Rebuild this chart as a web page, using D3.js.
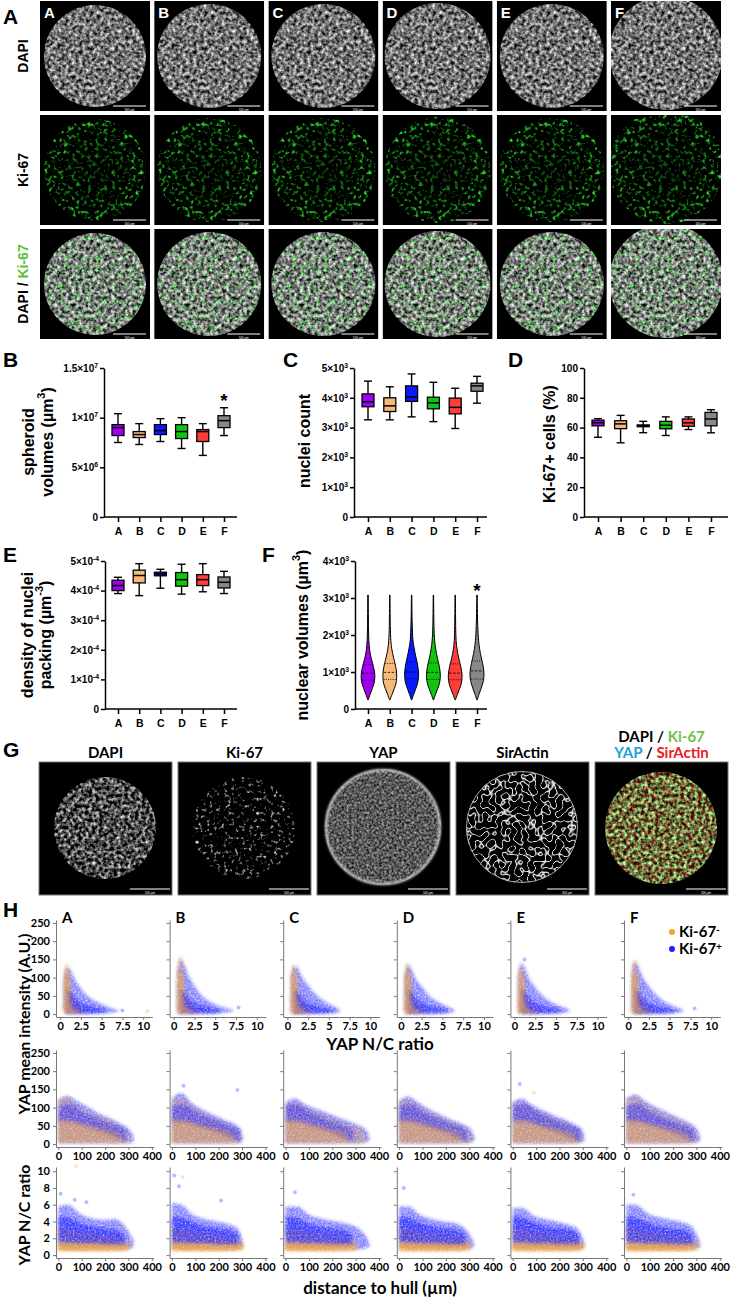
<!DOCTYPE html>
<html>
<head>
<meta charset="utf-8">
<title>Spheroid proliferation panels</title>
<script src="https://cdn.jsdelivr.net/npm/d3@7/dist/d3.min.js"></script>
<style>
  body { margin: 0; background: #fff; }
  svg { display: block; font-family: "Liberation Sans", Arial, sans-serif; }
  .lato { font-family: Lato, "Open Sans", sans-serif; }
</style>
</head>
<body>
<div id="container"></div>
<script>
//------------------------------- DATA --------------------------------//

const groups = ["A", "B", "C", "D", "E", "F"];
const groupColors = ["#a000f0", "#f6b97c", "#0a1aff", "#10c410", "#ff3c3c", "#888888"];

// panel A / G image rows and channels
const imageRows = ["DAPI", "Ki-67", "DAPI / Ki-67"];
const spheroidRadius = [51, 52, 52, 53, 52, 57];
const gChannels = ["DAPI", "Ki-67", "YAP", "SirActin", "merge"];

// box plots: [min, q1, median, q3, max]
const spheroidVolumes = [
  [7.5e6, 8.2e6, 9.0e6, 9.3e6, 1.04e7],
  [7.3e6, 8.0e6, 8.3e6, 8.6e6, 9.4e6],
  [7.6e6, 8.3e6, 8.7e6, 9.3e6, 9.9e6],
  [6.9e6, 7.9e6, 8.6e6, 9.3e6, 1.0e7],
  [6.2e6, 7.6e6, 8.6e6, 8.8e6, 9.4e6],
  [8.2e6, 9.0e6, 9.7e6, 1.02e7, 1.1e7]
];
const volumeTicks = [0, 5e6, 1e7, 1.5e7];
const volumeTickLabels = ["0", "5×10^6", "1×10^7", "1.5×10^7"];

const nucleiCount = [
  [3260, 3700, 3870, 4130, 4560],
  [3260, 3540, 3730, 4000, 4370],
  [3360, 3880, 4030, 4400, 4800],
  [3200, 3630, 3830, 4020, 4520],
  [2970, 3460, 3680, 3990, 4320],
  [3820, 4220, 4400, 4490, 4720]
];
const countTicks = [0, 1000, 2000, 3000, 4000, 5000];
const countTickLabels = ["0", "1×10^3", "2×10^3", "3×10^3", "4×10^3", "5×10^3"];

const ki67Percent = [
  [53.5, 61.2, 63.3, 65.0, 66.0],
  [49.8, 59.3, 62.5, 64.6, 68.2],
  [56.6, 60.6, 61.2, 61.8, 64.2],
  [54.7, 59.2, 61.6, 64.2, 67.2],
  [58.7, 60.9, 63.2, 65.8, 67.2],
  [56.5, 61.2, 65.8, 70.2, 72.0]
];
const percentTicks = [0, 20, 40, 60, 80, 100];
const percentTickLabels = ["0", "20", "40", "60", "80", "100"];

const packingDensity = [
  [3.90e-4, 4.00e-4, 4.17e-4, 4.35e-4, 4.45e-4],
  [3.83e-4, 4.26e-4, 4.51e-4, 4.69e-4, 4.91e-4],
  [4.08e-4, 4.50e-4, 4.56e-4, 4.62e-4, 4.72e-4],
  [3.88e-4, 4.15e-4, 4.37e-4, 4.61e-4, 4.89e-4],
  [3.96e-4, 4.17e-4, 4.37e-4, 4.54e-4, 4.91e-4],
  [3.90e-4, 4.09e-4, 4.28e-4, 4.46e-4, 4.65e-4]
];
const densityTicks = [0, 1e-4, 2e-4, 3e-4, 4e-4, 5e-4];
const densityTickLabels = ["0", "1×10^-4", "2×10^-4", "3×10^-4", "4×10^-4", "5×10^-4"];

// violins: [volume µm³, relative width]
const violinProfiles = [
  [[250, 0.04], [400, 0.3], [550, 0.62], [700, 0.9], [850, 1], [1000, 0.95], [1150, 0.78], [1300, 0.55], [1500, 0.3], [1700, 0.16], [2000, 0.08], [2500, 0.05], [3080, 0.03]],
  [[250, 0.04], [400, 0.32], [550, 0.65], [700, 0.92], [850, 1], [1000, 0.98], [1150, 0.85], [1300, 0.65], [1500, 0.4], [1700, 0.2], [2000, 0.09], [2500, 0.05], [3080, 0.03]],
  [[250, 0.04], [400, 0.3], [550, 0.6], [700, 0.88], [850, 1], [1000, 1], [1150, 0.9], [1300, 0.75], [1500, 0.5], [1700, 0.3], [1900, 0.14], [2500, 0.05], [3080, 0.03]],
  [[250, 0.04], [400, 0.3], [550, 0.62], [700, 0.9], [850, 1], [1000, 0.98], [1150, 0.86], [1300, 0.66], [1500, 0.44], [1700, 0.25], [2000, 0.1], [2500, 0.05], [3080, 0.03]],
  [[250, 0.04], [400, 0.32], [550, 0.64], [700, 0.92], [850, 1], [1000, 0.96], [1150, 0.8], [1300, 0.6], [1500, 0.36], [1700, 0.18], [2000, 0.08], [2500, 0.05], [3080, 0.03]],
  [[250, 0.04], [400, 0.28], [550, 0.58], [700, 0.86], [850, 1], [1000, 1], [1150, 0.9], [1300, 0.72], [1500, 0.48], [1700, 0.3], [2000, 0.15], [2500, 0.06], [3080, 0.03]]
];
const violinQuartiles = [
  [780, 970, 1200], [800, 990, 1230], [820, 1000, 1270],
  [800, 990, 1240], [790, 970, 1220], [810, 1030, 1300]
];
const nuclearTicks = [0, 1000, 2000, 3000, 4000];
const nuclearTickLabels = ["0", "1×10^3", "2×10^3", "3×10^3", "4×10^3"];

// H: point clouds as envelopes [x, low y, high y] per spheroid group
const ncTicks = [0, 2.5, 5, 7.5, 10];
const distTicks = [0, 100, 200, 300, 400];
const intensityTicks = [0, 50, 100, 150, 200, 250];
const ratioTicks = [0, 2, 4, 6, 8, 10];

const ncBlueOuter = [
  [[0.4, 10, 95], [0.8, 0, 128], [1.2, 0, 122], [1.8, 0, 95], [2.5, 0, 70], [3.5, 0, 46], [4.5, 0, 33], [5.5, 2, 23], [6.5, 5, 14], [7.1, 8, 10]],
  [[0.4, 10, 110], [0.8, 0, 150], [1.2, 0, 140], [1.8, 0, 105], [2.5, 0, 78], [3.5, 0, 48], [4.5, 0, 32], [5.5, 2, 22], [6.5, 5, 15], [7.2, 8, 11]],
  [[0.4, 10, 100], [0.8, 0, 132], [1.2, 0, 128], [1.8, 0, 102], [2.5, 0, 80], [3.5, 0, 52], [4.5, 0, 35], [5.5, 2, 22], [6.3, 6, 13]],
  [[0.4, 10, 100], [0.8, 0, 135], [1.2, 0, 126], [1.8, 0, 96], [2.5, 0, 76], [3.5, 0, 48], [4.5, 0, 33], [5.5, 2, 22], [6.4, 6, 13]],
  [[0.4, 10, 100], [0.8, 0, 140], [1.2, 0, 128], [1.8, 0, 96], [2.5, 0, 72], [3.5, 0, 48], [4.5, 0, 32], [5.5, 2, 22], [6.6, 6, 12]],
  [[0.4, 10, 110], [0.8, 0, 145], [1.2, 0, 132], [1.8, 0, 100], [2.5, 0, 76], [3.5, 0, 50], [4.5, 0, 33], [5.5, 2, 22], [6.6, 6, 12]]
];
const ncBlueCore = [[0.8, 3, 70], [1.3, 2, 60], [2, 2, 40], [3, 2, 26], [4, 3, 20], [5, 4, 15], [5.6, 6, 11]];
const ncOrangeOuter = [
  [[0.3, 0, 45], [0.55, 0, 130], [0.85, 0, 140], [1.15, 0, 110], [1.5, 0, 55], [2.1, 0, 25], [3, 0, 10]],
  [[0.3, 0, 55], [0.55, 0, 150], [0.85, 0, 160], [1.15, 0, 120], [1.5, 0, 60], [2.1, 0, 28], [3, 0, 10]],
  [[0.3, 0, 45], [0.55, 0, 125], [0.85, 0, 135], [1.15, 0, 110], [1.5, 0, 55], [2.1, 0, 25], [3, 0, 10]],
  [[0.3, 0, 45], [0.55, 0, 130], [0.85, 0, 140], [1.15, 0, 110], [1.5, 0, 55], [2.1, 0, 25], [3, 0, 10]],
  [[0.3, 0, 45], [0.55, 0, 125], [0.85, 0, 130], [1.15, 0, 105], [1.5, 0, 50], [2.1, 0, 25], [3, 0, 10]],
  [[0.3, 0, 50], [0.55, 0, 140], [0.85, 0, 150], [1.15, 0, 115], [1.5, 0, 55], [2.1, 0, 25], [3, 0, 10]]
];
const ncOrangeCore = [[0.55, 4, 100], [0.8, 3, 118], [1.0, 3, 95], [1.2, 3, 40], [1.6, 3, 15], [2.2, 3, 8]];

const distBlueOuter = [
  [[0, 3, 120], [40, 2, 132], [80, 2, 118], [130, 2, 100], [180, 2, 82], [230, 2, 68], [270, 2, 55], [300, 3, 42], [322, 5, 22]],
  [[0, 3, 125], [40, 2, 140], [80, 2, 115], [130, 2, 95], [180, 2, 80], [230, 2, 65], [270, 2, 55], [295, 5, 40], [303, 8, 20]],
  [[0, 3, 115], [40, 2, 125], [80, 2, 110], [140, 2, 95], [200, 2, 80], [260, 2, 65], [310, 2, 52], [345, 5, 38], [358, 10, 22]],
  [[0, 3, 120], [40, 2, 130], [80, 2, 115], [130, 2, 95], [180, 2, 80], [230, 2, 65], [280, 2, 52], [310, 5, 38], [322, 10, 20]],
  [[0, 3, 115], [40, 2, 125], [80, 2, 108], [130, 2, 92], [180, 2, 78], [230, 2, 65], [270, 2, 52], [298, 5, 38], [306, 10, 20]],
  [[0, 3, 125], [40, 2, 135], [80, 2, 118], [130, 2, 100], [180, 2, 85], [230, 2, 70], [270, 2, 58], [300, 5, 42], [316, 10, 22]]
];
const distBlueCore = [[0, 60, 105], [50, 60, 110], [100, 50, 90], [150, 40, 75], [200, 30, 62], [250, 15, 50], [290, 8, 38]];
const distOrangeOuter = [
  [[0, 0, 128], [40, 0, 130], [90, 0, 100], [150, 0, 82], [200, 0, 70], [250, 0, 55], [290, 0, 38], [310, 5, 20]],
  [[0, 0, 125], [40, 0, 125], [90, 0, 100], [150, 0, 80], [200, 0, 65], [250, 0, 52], [280, 0, 40], [295, 5, 20]],
  [[0, 0, 110], [50, 0, 115], [100, 0, 95], [160, 0, 80], [220, 0, 65], [280, 0, 50], [330, 0, 38], [345, 5, 20]],
  [[0, 0, 120], [40, 0, 120], [90, 0, 100], [150, 0, 82], [200, 0, 68], [250, 0, 55], [290, 0, 40], [310, 5, 20]],
  [[0, 0, 110], [40, 0, 115], [90, 0, 95], [150, 0, 78], [200, 0, 65], [250, 0, 52], [280, 0, 38], [295, 5, 20]],
  [[0, 0, 125], [40, 0, 130], [90, 0, 105], [150, 0, 85], [200, 0, 72], [250, 0, 58], [285, 0, 42], [305, 5, 20]]
];
const distOrangeCore = [[0, 5, 70], [60, 5, 65], [120, 5, 55], [180, 5, 45], [240, 5, 35], [270, 8, 25]];

const ratioBlueOuter = [
  [[0, 0.8, 5.8], [40, 0.7, 6.0], [90, 0.7, 5.0], [140, 0.7, 4.4], [190, 0.7, 4.2], [240, 0.7, 4.3], [280, 0.7, 3.6], [305, 0.8, 2.6], [322, 1, 1.8]],
  [[0, 0.8, 6.2], [40, 0.7, 6.0], [90, 0.7, 4.8], [140, 0.7, 4.3], [190, 0.7, 4.0], [240, 0.7, 3.7], [275, 0.7, 3.3], [295, 0.8, 2.4], [303, 1, 1.5]],
  [[0, 0.8, 5.8], [50, 0.7, 5.8], [100, 0.7, 4.8], [160, 0.7, 4.3], [220, 0.7, 4.0], [280, 0.7, 3.6], [320, 0.7, 3.0], [345, 0.8, 2.2], [358, 1, 1.5]],
  [[0, 0.8, 5.8], [40, 0.7, 5.8], [90, 0.7, 4.8], [140, 0.7, 4.3], [190, 0.7, 4.0], [240, 0.7, 3.8], [280, 0.7, 3.2], [305, 0.8, 2.3], [320, 1, 1.5]],
  [[0, 0.8, 5.6], [40, 0.7, 5.6], [90, 0.7, 4.7], [140, 0.7, 4.3], [190, 0.7, 4.0], [240, 0.7, 3.6], [275, 0.7, 3.2], [295, 0.8, 2.3], [306, 1, 1.5]],
  [[0, 0.8, 6.0], [40, 0.7, 6.0], [90, 0.7, 5.0], [140, 0.7, 4.5], [190, 0.7, 4.2], [240, 0.7, 3.9], [280, 0.7, 3.4], [300, 0.8, 2.5], [316, 1, 1.5]]
];
const ratioBlueCore = [[0, 1.6, 4.6], [50, 1.5, 4.4], [100, 1.4, 3.8], [150, 1.4, 3.4], [200, 1.3, 3.2], [250, 1.3, 3.0], [285, 1.3, 2.4]];
const ratioOrangeOuter = [[0, 0.4, 3.2], [60, 0.4, 3.0], [120, 0.4, 2.6], [180, 0.4, 2.4], [240, 0.4, 2.2], [290, 0.5, 1.8], [310, 0.7, 1.3]];
const ratioOrangeCore = [[0, 0.5, 1.5], [100, 0.5, 1.5], [200, 0.5, 1.4], [280, 0.6, 1.3], [300, 0.7, 1.2]];

// sparse points outside the clouds: [group index, row, class, x, y]
const outliers = [
  [0, 0, "o", 10.5, 8], [0, 0, "b", 7.5, 10], [1, 0, "b", 7.8, 18], [4, 0, "b", 1.2, 150], [5, 0, "b", 8.0, 15],
  [1, 1, "b", 50, 160], [1, 1, "b", 280, 148], [4, 1, "b", 30, 165], [4, 1, "o", 90, 140],
  [0, 2, "o", 75, 10.6], [0, 2, "b", 10, 7.3], [0, 2, "b", 70, 6.6], [0, 2, "b", 120, 6.3],
  [1, 2, "b", 10, 9.5], [1, 2, "b", 30, 8.2], [1, 2, "o", 45, 9.3], [1, 2, "b", 210, 6.5],
  [2, 2, "b", 40, 7.5], [3, 2, "b", 20, 8.0], [5, 2, "b", 30, 7.2]
];

//------------------------------- SETUP -------------------------------//

const width = 733, height = 1299;
const svg = d3.select("#container").append("svg")
  .attr("width", width).attr("height", height)
  .attr("viewBox", `0 0 ${width} ${height}`);
const defs = svg.append("defs");

// text with ^superscript^ parts
function rich(sel, str, fs, rise) {
  const r = rise || 0.4;
  sel.text(null);
  str.split("^").forEach((p, i) => {
    if (!p) return;
    const t = sel.append("tspan").text(p);
    if (i % 2) t.attr("dy", -r * fs).attr("font-size", fs * 0.68);
    else if (i > 0) t.attr("dy", r * fs);
  });
}

function panelLetter(txt, x, y) {
  svg.append("text").attr("x", x).attr("y", y).attr("font-size", 21)
    .attr("font-weight", "bold").text(txt);
}

function vLabel(str, x, y, fs, cls) {
  const t = svg.append("text").attr("transform", `translate(${x},${y}) rotate(-90)`)
    .attr("text-anchor", "middle").attr("dominant-baseline", "central")
    .attr("font-size", fs).attr("font-weight", "bold");
  if (cls) t.attr("class", cls);
  rich(t, str, fs);
  return t;
}

//----------------------------- FILTERS ------------------------------//

// noise texture for the microscopy-like images (alpha channel of the noise drives brightness)
function noiseFilter(id, type, freq, oct, seed, matrix) {
  const f = defs.append("filter").attr("id", id).attr("color-interpolation-filters", "sRGB");
  f.append("feTurbulence").attr("type", type).attr("baseFrequency", freq)
    .attr("numOctaves", oct).attr("seed", seed).attr("result", "n");
  f.append("feColorMatrix").attr("in", "n").attr("type", "matrix").attr("values", matrix).attr("result", "c");
  f.append("feComposite").attr("in", "c").attr("in2", "SourceGraphic").attr("operator", "in");
}
const mono = (r, g, b) => `0 0 0 ${r[0]} ${r[1]}  0 0 0 ${g[0]} ${g[1]}  0 0 0 ${b[0]} ${b[1]}  0 0 0 0 1`;
const grey = (a, b) => mono([a, b], [a, b], [a, b]);
noiseFilter("dapi", "fractalNoise", 0.28, 2, 3, grey(1.5, -0.3));
noiseFilter("ki", "fractalNoise", 0.25, 2, 7, mono([0.6, -0.32], [3.4, -1.75], [0.6, -0.32]));
noiseFilter("gdapi", "fractalNoise", 0.28, 2, 11, grey(1.8, -0.6));
noiseFilter("gki", "fractalNoise", 0.28, 2, 17, grey(3, -1.7));
noiseFilter("gyap", "fractalNoise", 0.4, 3, 5, grey(0.9, -0.1));
noiseFilter("gactin", "turbulence", 0.15, 1, 9, grey(-8, 0.95));
noiseFilter("gred", "fractalNoise", 0.28, 2, 21, mono([1.0, -0.2], [0.15, -0.02], [0.15, -0.02]));
noiseFilter("ggreen", "fractalNoise", 0.28, 2, 11, mono([1.4, -0.5], [2.3, -0.75], [1.4, -0.5]));

const dim = defs.append("radialGradient").attr("id", "dim");
dim.append("stop").attr("offset", "0%").attr("stop-color", "#000").attr("stop-opacity", 0.55);
dim.append("stop").attr("offset", "65%").attr("stop-color", "#000").attr("stop-opacity", 0.35);
dim.append("stop").attr("offset", "100%").attr("stop-color", "#000").attr("stop-opacity", 0);

// speckled look for point clouds
const sp = defs.append("filter").attr("id", "speckle")
  .attr("x", "-10%").attr("y", "-10%").attr("width", "120%").attr("height", "120%");
sp.append("feGaussianBlur").attr("in", "SourceGraphic").attr("stdDeviation", 1.4).attr("result", "b");
sp.append("feTurbulence").attr("type", "fractalNoise").attr("baseFrequency", 0.6)
  .attr("numOctaves", 1).attr("seed", 4).attr("result", "n");
sp.append("feColorMatrix").attr("in", "n").attr("type", "matrix")
  .attr("values", "0 0 0 0 0  0 0 0 0 0  0 0 0 0 0  0 0 0 1.4 0.05").attr("result", "na");
sp.append("feComposite").attr("in", "b").attr("in2", "na").attr("operator", "in");

const soft = defs.append("filter").attr("id", "soft");
soft.append("feGaussianBlur").attr("stdDeviation", 1);

//-------------------------- A: IMAGE GRID ---------------------------//

const cellA = 110;
const aCol = d3.scalePoint().domain(groups).range([40, 611]);
const aRow = d3.scalePoint().domain(imageRows).range([1, 229]);
defs.append("clipPath").attr("id", "clipA").append("rect").attr("width", cellA).attr("height", cellA);

function scaleBar(g, x1, x2, y, size) {
  g.append("line").attr("x1", x1).attr("x2", x2).attr("y1", y).attr("y2", y)
    .attr("stroke", "#fff").attr("stroke-width", 1.2);
  g.append("text").attr("x", (x1 + x2) / 2).attr("y", y + size + 1.5).attr("text-anchor", "middle")
    .attr("font-size", size).attr("fill", "#fff").text("100 µm");
}

imageRows.forEach((row, ri) => {
  groups.forEach((grp, ci) => {
    const cg = svg.append("g").attr("transform", `translate(${aCol(grp)},${aRow(row)})`);
    const inner = cg.append("g").attr("clip-path", "url(#clipA)");
    inner.append("rect").attr("width", cellA).attr("height", cellA).attr("fill", "#000");
    const r = spheroidRadius[ci];
    const cy = ci === 5 ? 52 : 55;
    if (ri !== 1) {
      inner.append("circle").attr("cx", 55).attr("cy", cy).attr("r", r)
        .attr("fill", "#fff").attr("filter", "url(#dapi)");
    }
    if (ri >= 1) {
      inner.append("circle").attr("cx", 55).attr("cy", cy).attr("r", r)
        .attr("fill", "#fff").attr("filter", "url(#ki)")
        .style("mix-blend-mode", ri === 2 ? "screen" : null);
      if (ri === 1) {
        inner.append("circle").attr("cx", 55).attr("cy", cy).attr("r", r).attr("fill", "url(#dim)");
      }
    }
    scaleBar(cg, 73, 106, 105, 3);
    if (ri === 0) {
      cg.append("text").attr("x", 4).attr("y", 17).attr("fill", "#fff")
        .attr("font-size", 15).attr("font-weight", "bold").text(grp);
    }
  });
  const lab = svg.append("text").attr("transform", `translate(23,${aRow(row) + 55}) rotate(-90)`)
    .attr("text-anchor", "middle").attr("dominant-baseline", "central")
    .attr("font-size", 14).attr("font-weight", "bold");
  if (row === "DAPI / Ki-67") {
    lab.append("tspan").text("DAPI / ");
    lab.append("tspan").attr("fill", "#5cbf3a").text("Ki-67");
  } else {
    lab.text(row);
  }
});
panelLetter("A", 3, 24);

//--------------------------- BOX PANELS -----------------------------//

function styleAxis(a, fs) {
  a.attr("font-family", null).attr("font-size", fs).attr("font-weight", "bold");
  a.selectAll("path, line").attr("stroke", "#000").attr("stroke-width", 1.5);
  a.selectAll("text").attr("fill", "#000");
}

function boxPanel(p) {
  const y = d3.scaleLinear().domain([0, p.max]).range([p.bottom, p.top]);
  const x = d3.scalePoint().domain(groups).range([p.catStart, p.catEnd]);
  const g = svg.append("g");

  if (p.boxes) {
    p.boxes.forEach((b, i) => {
      const cx = x(groups[i]), bw = 12, cw = 8;
      g.append("line").attr("x1", cx).attr("x2", cx).attr("y1", y(b[0])).attr("y2", y(b[4]))
        .attr("stroke", "#000").attr("stroke-width", 1.4);
      [b[0], b[4]].forEach(v => g.append("line").attr("x1", cx - cw / 2).attr("x2", cx + cw / 2)
        .attr("y1", y(v)).attr("y2", y(v)).attr("stroke", "#000").attr("stroke-width", 1.4));
      g.append("rect").attr("x", cx - bw / 2).attr("width", bw)
        .attr("y", y(b[3])).attr("height", Math.max(y(b[1]) - y(b[3]), 0.5))
        .attr("fill", groupColors[i]).attr("stroke", "#000").attr("stroke-width", 1.3);
      g.append("line").attr("x1", cx - bw / 2).attr("x2", cx + bw / 2)
        .attr("y1", y(b[2])).attr("y2", y(b[2])).attr("stroke", "#000").attr("stroke-width", 1.5);
    });
  }
  if (p.violins) {
    const halfW = 7;
    p.violins.forEach((prof, i) => {
      const cx = x(groups[i]);
      const area = d3.area().curve(d3.curveBasis)
        .y(d => y(d[0])).x0(d => cx - d[1] * halfW).x1(d => cx + d[1] * halfW);
      g.append("path").attr("d", area(prof)).attr("fill", groupColors[i])
        .attr("stroke", "#000").attr("stroke-width", 1);
      const wAt = d3.scaleLinear().domain(prof.map(d => d[0])).range(prof.map(d => d[1]));
      violinQuartiles[i].forEach((q, k) => {
        const w = wAt(q) * halfW * 0.9;
        g.append("line").attr("x1", cx - w).attr("x2", cx + w).attr("y1", y(q)).attr("y2", y(q))
          .attr("stroke", "#000").attr("stroke-width", 0.8)
          .attr("stroke-dasharray", k === 1 ? "2.5,1.5" : "1,1.2");
      });
    });
  }
  if (p.star != null) {
    g.append("text").attr("x", x("F")).attr("y", y(p.star) + 10).attr("text-anchor", "middle")
      .attr("font-size", 19).attr("font-weight", "bold").text("*");
  }

  const ya = g.append("g").attr("transform", `translate(${p.axisX},0)`)
    .call(d3.axisLeft(y).tickValues(p.ticks).tickSize(4).tickSizeOuter(0).tickPadding(2));
  styleAxis(ya, 10);
  ya.selectAll(".tick text").each(function (d) {
    rich(d3.select(this), p.labels[p.ticks.indexOf(d)], 10);
  });

  const xa = g.append("g").attr("transform", `translate(0,${p.bottom})`)
    .call(d3.axisBottom(x).tickSize(5).tickSizeOuter(0).tickPadding(6));
  xa.select(".domain").remove();
  styleAxis(xa, 10.5);
  g.append("line").attr("x1", p.axisX).attr("x2", p.xEnd).attr("y1", p.bottom).attr("y2", p.bottom)
    .attr("stroke", "#000").attr("stroke-width", 1.5);
}

boxPanel({ axisX: 104, top: 368, bottom: 517, xEnd: 237, catStart: 118, catEnd: 224, max: 1.5e7,
  boxes: spheroidVolumes, ticks: volumeTicks, labels: volumeTickLabels, star: 1.21e7 });
boxPanel({ axisX: 354, top: 368, bottom: 517, xEnd: 487, catStart: 368, catEnd: 477, max: 5000,
  boxes: nucleiCount, ticks: countTicks, labels: countTickLabels });
boxPanel({ axisX: 584, top: 368, bottom: 517, xEnd: 728, catStart: 598, catEnd: 711, max: 100,
  boxes: ki67Percent, ticks: percentTicks, labels: percentTickLabels });
boxPanel({ axisX: 105, top: 561, bottom: 709, xEnd: 237, catStart: 118, catEnd: 224, max: 5e-4,
  boxes: packingDensity, ticks: densityTicks, labels: densityTickLabels });
boxPanel({ axisX: 355, top: 561, bottom: 709, xEnd: 487, catStart: 368, catEnd: 477, max: 4000,
  violins: violinProfiles, ticks: nuclearTicks, labels: nuclearTickLabels, star: 3300 });

panelLetter("B", 3, 367);
panelLetter("C", 283, 367);
panelLetter("D", 508, 367);
panelLetter("E", 3, 562);
panelLetter("F", 262, 562);

vLabel("spheroid", 28, 442, 16);
vLabel("volumes (µm^3^)", 47, 442, 16);
vLabel("nuclei count", 304, 441, 16);
vLabel("Ki-67+ cells (%)", 549, 444, 16);
vLabel("density of nuclei", 27, 635, 16);
vLabel("packing (µm^-3^)", 45, 635, 16);
vLabel("nuclear volumes (µm^3^)", 302, 635, 16);

//---------------------------- G: IMAGES -----------------------------//

const cellG = 133, gTop = 762;
const gCol = d3.scalePoint().domain(gChannels).range([39, 595]);
defs.append("clipPath").attr("id", "clipG").append("rect").attr("width", cellG).attr("height", cellG);

gChannels.forEach(ch => {
  const cg = svg.append("g").attr("transform", `translate(${gCol(ch)},${gTop})`);
  const inner = cg.append("g").attr("clip-path", "url(#clipG)");
  inner.append("rect").attr("width", cellG).attr("height", cellG).attr("fill", "#000");
  const c = [66, 66];
  if (ch === "DAPI") {
    inner.append("circle").attr("cx", c[0]).attr("cy", c[1]).attr("r", 51).attr("fill", "#fff").attr("filter", "url(#gdapi)");
  } else if (ch === "Ki-67") {
    inner.append("circle").attr("cx", c[0]).attr("cy", c[1]).attr("r", 51).attr("fill", "#fff").attr("filter", "url(#gki)");
  } else if (ch === "YAP") {
    inner.append("circle").attr("cx", c[0]).attr("cy", c[1] - 1).attr("r", 58).attr("fill", "#fff").attr("filter", "url(#gyap)");
    inner.append("circle").attr("cx", c[0]).attr("cy", c[1] - 1).attr("r", 57).attr("fill", "none")
      .attr("stroke", "#ddd").attr("stroke-width", 2.5).attr("opacity", 0.8).attr("filter", "url(#soft)");
  } else if (ch === "SirActin") {
    inner.append("circle").attr("cx", c[0]).attr("cy", c[1] - 1).attr("r", 56).attr("fill", "#fff").attr("filter", "url(#gactin)");
    inner.append("circle").attr("cx", c[0]).attr("cy", c[1] - 1).attr("r", 55.5).attr("fill", "none")
      .attr("stroke", "#aaa").attr("stroke-width", 1);
  } else {
    inner.append("circle").attr("cx", c[0]).attr("cy", c[1]).attr("r", 56).attr("fill", "#fff").attr("filter", "url(#gred)");
    inner.append("circle").attr("cx", c[0]).attr("cy", c[1]).attr("r", 56).attr("fill", "#fff")
      .attr("filter", "url(#ggreen)").style("mix-blend-mode", "screen");
  }
  cg.append("rect").attr("width", cellG).attr("height", cellG).attr("fill", "none")
    .attr("stroke", "#777").attr("stroke-width", 1);
  scaleBar(cg, 91, 131, 127, 3);
  if (ch !== "merge") {
    svg.append("text").attr("x", gCol(ch) + cellG / 2).attr("y", 758).attr("text-anchor", "middle")
      .attr("font-size", 15).attr("font-weight", "bold").attr("class", "lato").text(ch);
  }
});
{
  const mx = gCol("merge") + cellG / 2;
  const t1 = svg.append("text").attr("x", mx).attr("y", 742).attr("text-anchor", "middle")
    .attr("font-size", 15).attr("font-weight", "bold").attr("class", "lato");
  t1.append("tspan").text("DAPI / ");
  t1.append("tspan").attr("fill", "#6cc04a").text("Ki-67");
  const t2 = svg.append("text").attr("x", mx).attr("y", 758).attr("text-anchor", "middle")
    .attr("font-size", 15).attr("font-weight", "bold").attr("class", "lato");
  t2.append("tspan").attr("fill", "#19a2de").text("YAP");
  t2.append("tspan").text(" / ");
  t2.append("tspan").attr("fill", "#ec1c24").text("SirActin");
}
panelLetter("G", 3, 757);

//--------------------------- H: SCATTERS ----------------------------//

const blue = "#1e1eff", orange = "#f4a42c";
const hCol = d3.scalePoint().domain(groups).range([56, 624]);
const hRows = [
  { xDom: [-0.5, 11.1], xW: 96.3, xTicks: ncTicks, yDom: [-8, 258], yRange: [1017, 920], yTicks: intensityTicks,
    blueOuter: ncBlueOuter, blueCore: ncBlueCore, orangeOuter: ncOrangeOuter, orangeCore: ncOrangeCore },
  { xDom: [-10, 408], xW: 97.7, xTicks: distTicks, yDom: [-8, 258], yRange: [1147, 1050], yTicks: intensityTicks,
    blueOuter: distBlueOuter, blueCore: distBlueCore, orangeOuter: distOrangeOuter, orangeCore: distOrangeCore },
  { xDom: [-10, 408], xW: 97.7, xTicks: distTicks, yDom: [-0.35, 10.5], yRange: [1258, 1167], yTicks: ratioTicks,
    blueOuter: ratioBlueOuter, blueCore: ratioBlueCore, orangeOuter: groups.map(() => ratioOrangeOuter), orangeCore: ratioOrangeCore }
];
// layer opacities per row: [blue outer, orange outer, blue core, orange core]
const hOpacity = [[0.6, 0.5, 0.7, 0.7], [0.6, 0.4, 0.55, 0.45], [0.6, 0.5, 0.7, 0.75]];

hRows.forEach((row, ri) => {
  groups.forEach((grp, ci) => {
    const cx = hCol(grp);
    const x = d3.scaleLinear().domain(row.xDom).range([cx, cx + row.xW]);
    const y = d3.scaleLinear().domain(row.yDom).range(row.yRange);
    const area = d3.area().curve(d3.curveMonotoneX)
      .x(d => x(d[0])).y0(d => y(d[1])).y1(d => y(d[2]));
    const g = svg.append("g");
    const layer = (data, color, op) => g.append("path").attr("d", area(data))
      .attr("fill", color).attr("fill-opacity", op).attr("filter", "url(#speckle)");
    const op = hOpacity[ri];

    layer(row.blueOuter[ci], blue, op[0]);
    layer(row.orangeOuter[ci], orange, op[1]);
    if (ri === 2) {
      layer(row.orangeCore, orange, op[3]);
      layer(row.blueCore, blue, op[2]);
    } else {
      layer(row.blueCore, blue, op[2]);
      layer(row.orangeCore, orange, op[3]);
    }
    outliers.filter(o => o[0] === ci && o[1] === ri).forEach(o => {
      g.append("circle").attr("cx", x(o[3])).attr("cy", y(o[4])).attr("r", 2)
        .attr("fill", o[2] === "b" ? blue : orange).attr("fill-opacity", 0.3);
    });

    const ya = g.append("g").attr("transform", `translate(${cx},0)`)
      .call(d3.axisLeft(y).tickValues(row.yTicks).tickSize(3).tickSizeOuter(0).tickPadding(3));
    const xa = g.append("g").attr("transform", `translate(0,${row.yRange[0]})`)
      .call(d3.axisBottom(x).tickValues(row.xTicks).tickSize(3).tickSizeOuter(0).tickPadding(2).tickFormat(d => d));
    [ya, xa].forEach(a => {
      a.attr("font-family", null).attr("class", "lato").attr("font-size", 11).attr("font-weight", "bold");
      a.selectAll("path, line").attr("stroke", "#777").attr("stroke-width", 1);
      a.selectAll("text").attr("fill", "#000");
    });
    if (ci !== 0) ya.selectAll(".tick text").remove();
    if (ri === 0) {
      svg.append("text").attr("x", cx + 6).attr("y", 923).attr("class", "lato")
        .attr("font-size", 15).attr("font-weight", "bold").text(grp);
    }
  });
});

// legend
[["Ki-67", "-", orange, 937], ["Ki-67", "+", blue, 954]].forEach(l => {
  svg.append("circle").attr("cx", 672).attr("cy", l[3] - 5).attr("r", 3).attr("fill", l[2]);
  const t = svg.append("text").attr("x", 679).attr("y", l[3]).attr("class", "lato")
    .attr("font-size", 15).attr("font-weight", "bold");
  rich(t, l[0] + "^" + l[1] + "^", 15, 0.3);
});

svg.append("text").attr("x", 380).attr("y", 1050).attr("text-anchor", "middle").attr("class", "lato")
  .attr("font-size", 17).attr("font-weight", "bold").text("YAP N/C ratio");
svg.append("text").attr("x", 380).attr("y", 1294).attr("text-anchor", "middle").attr("class", "lato")
  .attr("font-size", 17).attr("font-weight", "bold").text("distance to hull (µm)");
vLabel("YAP mean intensity (A.U.)", 23, 1024, 16, "lato");
vLabel("YAP N/C ratio", 23, 1215, 16, "lato");
panelLetter("H", 3, 917);
</script>
</body>
</html>
